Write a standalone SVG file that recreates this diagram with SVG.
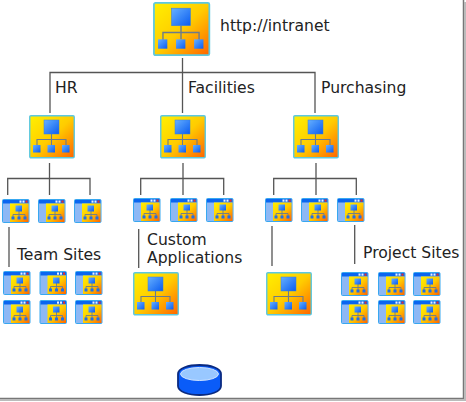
<svg xmlns="http://www.w3.org/2000/svg" width="466" height="402" viewBox="0 0 466 402">
<style>
.t{font-family:"DejaVu Sans","Liberation Sans",sans-serif;font-size:15.6px;fill:#222}
.c{fill:none;stroke:#555;stroke-width:1.3}
.o{fill:none;stroke:#6b7a8c;stroke-width:1.1}
.o2{fill:none;stroke:#6b7a8c;stroke-width:.9}
</style>
<defs>
<linearGradient id="y" x1="0" y1="0" x2="1" y2="1"><stop offset="0" stop-color="#fff000"/><stop offset=".5" stop-color="#ffcc00"/><stop offset="1" stop-color="#ff6400"/></linearGradient>
<linearGradient id="b" x1="0" y1="0" x2="1" y2="1"><stop offset="0" stop-color="#66b0ff"/><stop offset="1" stop-color="#0a5cf0"/></linearGradient>
<g id="tree">
<rect x=".75" y=".75" width="44.5" height="42" rx="1.2" fill="url(#y)" stroke="#5cc8e0" stroke-width="1.4"/>
<path class="o" d="M22.500 19V30M8 31V24.500H37V31"/>
<rect x="15" y="5" width="15" height="14" fill="url(#b)" stroke="#3a7fd8" stroke-width=".5"/>
<rect x="4" y="30" width="7.500" height="7.500" fill="url(#b)"/>
<rect x="18.500" y="30" width="7.500" height="7.500" fill="url(#b)"/>
<rect x="33" y="30" width="7.500" height="7.500" fill="url(#b)"/>
</g>
<g id="win">
<rect x=".5" y=".5" width="26.500" height="23" rx="1" fill="#8db8f5" stroke="#38a8f0"/>
<rect x="1" y="1" width="25.500" height="3.500" fill="#0a66f0"/>
<rect x="17.500" y="1.500" width="2" height="2.200" fill="#e8f0ff"/>
<rect x="20.500" y="1.500" width="2" height="2.200" fill="#e8f0ff"/>
<rect x="23.500" y="1.500" width="2" height="2.200" fill="#e03030"/>
<rect x="8" y="4.500" width="18.500" height="18.500" fill="url(#y)"/>
<path class="o2" d="M17 12V18M11 18V15.500H23V18"/>
<rect x="13.500" y="6.500" width="6.500" height="6" fill="url(#b)"/>
<rect x="9.500" y="17.500" width="3" height="3" fill="#1f6fe8"/>
<rect x="15.500" y="17.500" width="3" height="3" fill="#1f6fe8"/>
<rect x="21.500" y="17.500" width="3" height="3" fill="#1f6fe8"/>
</g>
</defs>
<rect width="466" height="402" fill="#fff"/>
<g id="frame" fill="none">
<path d="M463.500 0V398.500H0" stroke="#777" stroke-width="1.500"/>
<path d="M465 2V400H0" stroke="#bbb" stroke-width="2"/>
</g>
<g id="connectors">
<path class="c" d="M182.500 58V113M50 113V72.500H315V113"/>
<path class="c" d="M49.500 163V195M7.700 195V178.500H90V195"/>
<path class="c" d="M183 163V195M140.700 195V178.500H223.700V195"/>
<path class="c" d="M316 163V195M273.700 195V178.500H356.300V195"/>
<path class="c" d="M9 227V267M138.700 229V268M272 226V266M354.700 225V264"/>
</g>
<g id="root"><use href="#tree" transform="translate(153 2) scale(1.245 1.245)"/><text class="t" x="220" y="31">http://intranet</text></g>
<g id="hr"><use href="#tree" x="29" y="115"/><text class="t" x="55" y="93">HR</text></g>
<g id="facilities"><use href="#tree" x="160" y="115"/><text class="t" x="188" y="93">Facilities</text></g>
<g id="purchasing"><use href="#tree" x="293" y="115"/><text class="t" x="321" y="93">Purchasing</text></g>
<g id="hr-sites"><use href="#win" x="2" y="199"/><use href="#win" x="38" y="199"/><use href="#win" x="74" y="199"/></g>
<g id="facilities-sites"><use href="#win" x="133" y="198"/><use href="#win" x="170" y="198"/><use href="#win" x="206" y="198"/></g>
<g id="purchasing-sites"><use href="#win" x="265" y="198"/><use href="#win" x="301" y="198"/><use href="#win" x="337" y="198"/></g>
<g id="team-sites"><text class="t" x="17" y="260">Team Sites</text>
<use href="#win" x="3" y="271"/><use href="#win" x="39.500" y="271"/><use href="#win" x="75" y="271"/>
<use href="#win" x="3" y="300"/><use href="#win" x="39.500" y="300"/><use href="#win" x="75" y="300"/></g>
<g id="custom-applications"><text class="t" x="147" y="245">Custom</text><text class="t" x="147" y="263">Applications</text><use href="#tree" x="133" y="272"/></g>
<g id="purchasing-app"><use href="#tree" x="266" y="272"/></g>
<g id="project-sites"><text class="t" x="363" y="258">Project Sites</text>
<use href="#win" x="341" y="272"/><use href="#win" x="378" y="272"/><use href="#win" x="413" y="272"/>
<use href="#win" x="341" y="300"/><use href="#win" x="378" y="300"/><use href="#win" x="413" y="300"/></g>
<g id="database">
<path d="M178 374C178 362 221 362 221 374V386C221 398 178 398 178 386Z" fill="#0a5cf8" stroke="#0a2a80" stroke-width="1.800"/>
<ellipse cx="199.500" cy="374" rx="19" ry="6.500" fill="#99c8ff" stroke="#cfe4ff"/>
</g>
</svg>
